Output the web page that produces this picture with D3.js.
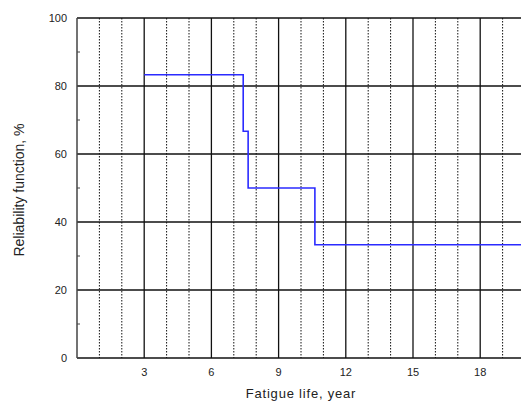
<!DOCTYPE html>
<html>
<head>
<meta charset="utf-8">
<script src="https://cdn.jsdelivr.net/npm/d3@7"></script>
<style>
  body { margin: 0; background: #fff; }
  text { font-family: Arial, "Liberation Sans", sans-serif; fill: #222; }
</style>
</head>
<body>
<svg id="chart"></svg>
<script>
// step data (reliability function vs fatigue life)
const stepTimes = [3, 7.42, 7.64, 10.62, 20];
const stepValues = [83.33, 66.67, 50, 33.33, 33.33];

const xMajorTicks = [3, 6, 9, 12, 15, 18];
const xMinorTicks = [1, 2, 4, 5, 7, 8, 10, 11, 13, 14, 16, 17, 19];
const yMajorTicks = [0, 20, 40, 60, 80, 100];
const yMinorTicks = [10, 30, 50, 70, 90];

const width = 521, height = 405;
const margin = { top: 18, right: -4, bottom: 47, left: 77 };

const svg = d3.select("#chart").attr("width", width).attr("height", height);

const x = d3.scaleLinear().domain([0, 20]).range([margin.left, width - margin.right]);
const y = d3.scaleLinear().domain([0, 100]).range([height - margin.bottom, margin.top]);

// vertical dotted grid
svg.selectAll(".vminor")
    .data(xMinorTicks)
    .enter()
    .append("line")
    .attr("x1", d => x(d)).attr("x2", d => x(d))
    .attr("y1", y(100)).attr("y2", y(0))
    .attr("stroke", "#111")
    .attr("stroke-width", 1)
    .attr("stroke-dasharray", "1.5,1.5");

// vertical solid grid
svg.selectAll(".vmajor")
    .data(xMajorTicks)
    .enter()
    .append("line")
    .attr("x1", d => x(d)).attr("x2", d => x(d))
    .attr("y1", y(100)).attr("y2", y(0))
    .attr("stroke", "#111")
    .attr("stroke-width", 1.3);

// horizontal solid grid
svg.selectAll(".hmajor")
    .data(yMajorTicks)
    .enter()
    .append("line")
    .attr("x1", x(0)).attr("x2", width)
    .attr("y1", d => y(d)).attr("y2", d => y(d))
    .attr("stroke", "#111")
    .attr("stroke-width", 1.3);

// left axis line
svg.append("line")
    .attr("x1", x(0)).attr("x2", x(0))
    .attr("y1", y(100)).attr("y2", y(0))
    .attr("stroke", "#444")
    .attr("stroke-width", 1.5);

// minor ticks on left axis
svg.selectAll(".yminor")
    .data(yMinorTicks)
    .enter()
    .append("line")
    .attr("x1", x(0)).attr("x2", x(0) + 3)
    .attr("y1", d => y(d)).attr("y2", d => y(d))
    .attr("stroke", "#444");

// y tick labels
svg.selectAll(".ylab")
    .data(yMajorTicks)
    .enter()
    .append("text")
    .attr("x", x(0) - 10)
    .attr("y", d => y(d) + 4)
    .attr("text-anchor", "end")
    .attr("font-size", 11)
    .text(d => d);

// x tick labels
svg.selectAll(".xlab")
    .data(xMajorTicks)
    .enter()
    .append("text")
    .attr("x", d => x(d))
    .attr("y", y(0) + 18)
    .attr("text-anchor", "middle")
    .attr("font-size", 11)
    .text(d => d);

// step line
const pts = [[stepTimes[0], stepValues[0]]];
for (let i = 1; i < stepTimes.length; i++) {
    pts.push([stepTimes[i], stepValues[i - 1]]);
    pts.push([stepTimes[i], stepValues[i]]);
}
svg.append("path")
    .datum(pts)
    .attr("d", d3.line().x(d => x(d[0])).y(d => y(d[1])))
    .attr("fill", "none")
    .attr("stroke", "#2b2bff")
    .attr("stroke-width", 1.6);

// axis titles
svg.append("text")
    .attr("x", 301)
    .attr("y", 398)
    .attr("text-anchor", "middle")
    .attr("font-size", 13)
    .attr("letter-spacing", "0.8")
    .text("Fatigue life, year");

svg.append("text")
    .attr("transform", "translate(24, 190) rotate(-90)")
    .attr("text-anchor", "middle")
    .attr("font-size", 14)
    .text("Reliability function, %");
</script>
</body>
</html>
